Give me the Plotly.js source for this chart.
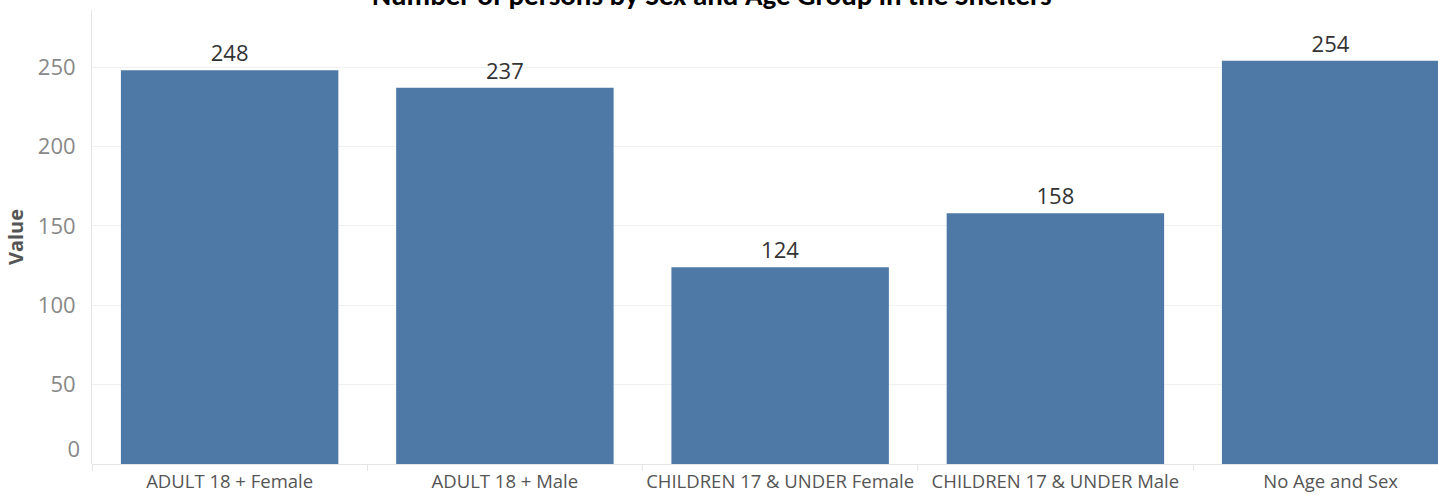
<!DOCTYPE html>
<html><head><meta charset="utf-8">
<script src="https://cdn.plot.ly/plotly-3.0.1.min.js"></script>
<style>html,body{margin:0;padding:0;overflow:hidden;background:#fff}#chart{width:1438px;height:495px}</style>
</head><body><div id="chart"></div>
<script>
const categories = ["ADULT 18 + Female", "ADULT 18 + Male", "CHILDREN 17 & UNDER Female", "CHILDREN 17 & UNDER Male", "No Age and Sex"];
const values = [248, 237, 124, 158, 254];
const yTicks = [50, 100, 150, 200, 250];
const chartTitle = "Number of persons by Sex and Age Group in the Shelters";

const trace = {
  type: 'bar', x: categories, y: values,
  marker: {color: '#4e79a7'},
  text: values.map(String), textposition: 'outside', cliponaxis: false,
  textfont: {family: 'Open Sans, sans-serif', size: 22, color: '#333'},
  hoverinfo: 'x+y'
};
const zeroTrace = {type: 'scatter', x: [categories[0]], y: [0], yaxis: 'y2', mode: 'markers', marker: {opacity: 0}, showlegend: false, hoverinfo: 'skip'};

const layout = {
  width: 1438, height: 495,
  margin: {l: 92, r: 0, t: 10, b: 31},
  paper_bgcolor: '#fff', plot_bgcolor: '#fff',
  showlegend: false, bargap: 0.21,
  title: {text: '<b>' + chartTitle + '</b>', x: 0.495, xanchor: 'center', yref: 'container', y: 1 - 5/495, yanchor: 'bottom',
          pad: {t: 0, b: 0, l: 0, r: 0},
          font: {family: 'Carlito, Calibri, Liberation Sans, sans-serif', size: 29, color: '#000'}},
  xaxis: {range: [-0.5, 4.39], showgrid: false, zeroline: false, tickangle: 0,
          ticks: 'outside', tickson: 'boundaries', ticklen: 6, tickcolor: '#e6e6e6', ticklabelstandoff: 4,
          tickfont: {family: 'Open Sans, sans-serif', size: 18.5, color: '#555'}, automargin: false},
  yaxis: {range: [0, 286], tickvals: yTicks, showgrid: true, gridcolor: '#f0f0f0',
          zeroline: true, zerolinecolor: '#e6e6e6', showline: true, linecolor: '#e6e6e6',
          ticks: '', ticklabelstandoff: 11,
          tickfont: {family: 'Open Sans, sans-serif', size: 22, color: '#888'},
          title: {text: '<b>Value</b>', standoff: 8, font: {family: 'Open Sans, sans-serif', size: 20, color: '#555'}},
          automargin: false},
  yaxis2: {overlaying: 'y', side: 'left', range: [0, 286], tickvals: [0], showgrid: false, zeroline: false,
           showline: false, ticks: '', ticklabelstandoff: 11, ticklabelshift: -15,
           tickfont: {family: 'Open Sans, sans-serif', size: 22, color: '#888'}, automargin: false}
};
Plotly.newPlot('chart', [trace, zeroTrace], layout, {displayModeBar: false});
</script></body></html>
